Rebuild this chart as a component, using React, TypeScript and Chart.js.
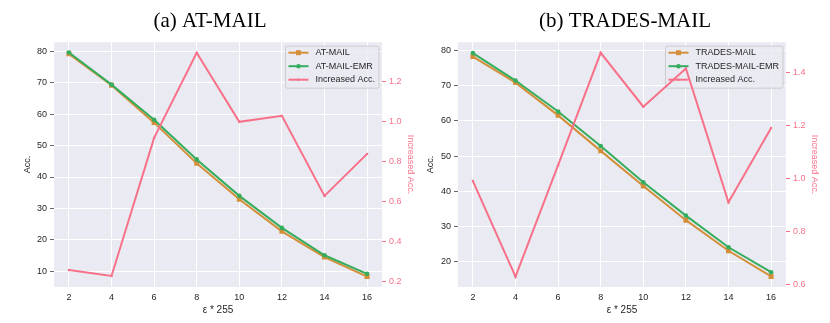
import React, { useEffect, useRef } from "react";
import { Chart, registerables } from "chart.js";

Chart.register(...registerables);

// ---------- data ----------
const epsilons = [2, 4, 6, 8, 10, 12, 14, 16];

const atMail = [79.2, 69.2, 57.3, 44.4, 32.9, 22.7, 14.5, 8.3];
const atMailEmr = [79.6, 69.4, 58.2, 45.6, 34.0, 23.8, 15.1, 9.2];
const atIncreased = [0.26, 0.23, 0.92, 1.345, 1.0, 1.03, 0.63, 0.84];

const tradesMail = [78.3, 70.9, 61.6, 51.5, 41.5, 31.8, 23.1, 15.8];
const tradesMailEmr = [79.3, 71.5, 62.7, 52.9, 42.6, 33.1, 24.1, 17.0];
const tradesIncreased = [0.99, 0.63, 1.05, 1.473, 1.27, 1.414, 0.91, 1.19];

const atAccTicks = [10, 20, 30, 40, 50, 60, 70, 80];
const atIncTicks = [0.2, 0.4, 0.6, 0.8, 1.0, 1.2];
const tradesAccTicks = [20, 30, 40, 50, 60, 70, 80];
const tradesIncTicks = [0.6, 0.8, 1.0, 1.2, 1.4];

// ---------- style ----------
const ORANGE = "#D38F3A";
const GREEN = "#35AD5E";
const PINK = "#F77189";
const TEXT = "#262626";
const BG = "#EAEAF2";
const SANS = "'Liberation Sans', Arial, sans-serif";
const SERIF = "'Liberation Serif', 'Times New Roman', serif";

type PanelCfg = {
  title: string;
  names: [string, string];
  base: number[];
  emr: number[];
  inc: number[];
  accTicks: number[];
  incTicks: number[];
  accMin: number;
  accMax: number;
  incMin: number;
  incMax: number;
  left: number;
  width: number;
  leftAxisW: number;
  rightAxisW: number;
  leftTitlePad: number;
  rightTitlePad: number;
};

const panels: PanelCfg[] = [
  {
    title: "(a) AT-MAIL",
    names: ["AT-MAIL", "AT-MAIL-EMR"],
    base: atMail,
    emr: atMailEmr,
    inc: atIncreased,
    accTicks: atAccTicks,
    incTicks: atIncTicks,
    accMin: 5.0,
    accMax: 82.9,
    incMin: 0.175,
    incMax: 1.398,
    left: 0,
    width: 420,
    leftAxisW: 54,
    rightAxisW: 38,
    leftTitlePad: 22.6,
    rightTitlePad: 3.9,
  },
  {
    title: "(b) TRADES-MAIL",
    names: ["TRADES-MAIL", "TRADES-MAIL-EMR"],
    base: tradesMail,
    emr: tradesMailEmr,
    inc: tradesIncreased,
    accTicks: tradesAccTicks,
    incTicks: tradesIncTicks,
    accMin: 12.8,
    accMax: 82.4,
    incMin: 0.591,
    incMax: 1.513,
    left: 420,
    width: 410,
    leftAxisW: 38,
    rightAxisW: 44,
    leftTitlePad: 5.6,
    rightTitlePad: 10.3,
  },
];

const toPoints = (ys: number[]) => epsilons.map((x, i) => ({ x, y: ys[i] }));

const bgPlugin = {
  id: "plotBg",
  beforeDraw(chart: any) {
    const { ctx, chartArea } = chart;
    ctx.save();
    ctx.fillStyle = BG;
    ctx.fillRect(chartArea.left, chartArea.top, chartArea.right - chartArea.left, chartArea.bottom - chartArea.top);
    ctx.restore();
  },
};

const legendPlugin = {
  id: "mplLegend",
  beforeDatasetsDraw(chart: any) {
    const { ctx, chartArea } = chart;
    const items = chart.data.datasets;
    ctx.save();
    ctx.font = `9px ${SANS}`;
    let textW = 0;
    items.forEach((d: any) => {
      textW = Math.max(textW, ctx.measureText(d.label).width);
    });
    const padL = 3, sample = 20, gap = 7, padR = 4;
    const w = padL + sample + gap + textW + padR;
    const h = 42;
    const right = chartArea.right - 3;
    const top = chartArea.top + 4;
    const left = right - w;
    const r = 2;
    ctx.beginPath();
    ctx.moveTo(left + r, top);
    ctx.lineTo(left + w - r, top);
    ctx.quadraticCurveTo(left + w, top, left + w, top + r);
    ctx.lineTo(left + w, top + h - r);
    ctx.quadraticCurveTo(left + w, top + h, left + w - r, top + h);
    ctx.lineTo(left + r, top + h);
    ctx.quadraticCurveTo(left, top + h, left, top + h - r);
    ctx.lineTo(left, top + r);
    ctx.quadraticCurveTo(left, top, left + r, top);
    ctx.closePath();
    ctx.fillStyle = "rgba(234,234,242,0.8)";
    ctx.fill();
    ctx.strokeStyle = "#CCCCCC";
    ctx.lineWidth = 1;
    ctx.stroke();

    items.forEach((d: any, i: number) => {
      const y = top + 6.5 + i * 13.5;
      const x0 = left + padL;
      ctx.strokeStyle = d.borderColor;
      ctx.lineWidth = 2;
      ctx.beginPath();
      ctx.moveTo(x0, y);
      ctx.lineTo(x0 + sample, y);
      ctx.stroke();
      const cx = x0 + sample / 2;
      ctx.fillStyle = d.borderColor;
      if (d.pointStyle === "rect") {
        const s = d.pointRadius * Math.SQRT1_2;
        ctx.fillRect(cx - s, y - s, 2 * s, 2 * s);
      } else {
        ctx.beginPath();
        ctx.arc(cx, y, d.pointRadius, 0, Math.PI * 2);
        ctx.fill();
      }
      ctx.fillStyle = TEXT;
      ctx.textBaseline = "middle";
      ctx.textAlign = "left";
      ctx.fillText(d.label, x0 + sample + gap, y);
    });
    ctx.restore();
  },
};

function Panel({ cfg }: { cfg: PanelCfg }) {
  const ref = useRef<HTMLCanvasElement>(null);

  useEffect(() => {
    if (!ref.current) return;
    const tickFont = { family: SANS, size: 9 };
    const chart = new Chart(ref.current, {
      type: "line",
      data: {
        datasets: [
          {
            label: cfg.names[0],
            data: toPoints(cfg.base),
            borderColor: ORANGE,
            backgroundColor: ORANGE,
            borderWidth: 2,
            pointStyle: "rect",
            pointRadius: 3.5,
            pointBorderWidth: 0,
            yAxisID: "y",
            order: 3,
          },
          {
            label: cfg.names[1],
            data: toPoints(cfg.emr),
            borderColor: GREEN,
            backgroundColor: GREEN,
            borderWidth: 2,
            pointStyle: "circle",
            pointRadius: 2.3,
            pointBorderWidth: 0,
            yAxisID: "y",
            order: 2,
          },
          {
            label: "Increased Acc.",
            data: toPoints(cfg.inc),
            borderColor: PINK,
            backgroundColor: PINK,
            borderWidth: 2,
            pointStyle: "circle",
            pointRadius: 1.2,
            pointBorderWidth: 0,
            yAxisID: "y1",
            order: 1,
          },
        ] as any,
      },
      options: {
        responsive: false,
        animation: false,
        layout: { padding: 0 },
        plugins: {
          legend: { display: false },
          tooltip: { enabled: false },
          title: {
            display: true,
            text: cfg.title,
            color: "#000000",
            font: { family: SERIF, size: 21, weight: "normal" as any },
            padding: { top: 9, bottom: 8 },
          },
        },
        scales: {
          x: {
            type: "linear",
            position: "bottom",
            min: 1.3,
            max: 16.7,
            afterBuildTicks: (s: any) => {
              s.ticks = epsilons.map((v) => ({ value: v }));
            },
            afterFit: (s: any) => {
              s.height = 36;
            },
            grid: { color: "#FFFFFF", lineWidth: 1, drawTicks: false },
            border: { display: false },
            ticks: { font: tickFont, color: TEXT, padding: 5, callback: (v: any) => String(v) },
            title: {
              display: true,
              text: "ε * 255",
              color: TEXT,
              font: { family: SANS, size: 10 },
              padding: { top: 0, bottom: 7 },
            },
          },
          y: {
            type: "linear",
            position: "left",
            min: cfg.accMin,
            max: cfg.accMax,
            afterBuildTicks: (s: any) => {
              s.ticks = cfg.accTicks.map((v) => ({ value: v }));
            },
            afterFit: (s: any) => {
              s.width = cfg.leftAxisW;
            },
            grid: { color: "#FFFFFF", lineWidth: 1, drawTicks: true, tickLength: 4, tickColor: "#666666" },
            border: { display: false },
            ticks: { font: tickFont, color: TEXT, padding: 3, callback: (v: any) => String(v) },
            title: {
              display: true,
              text: "Acc.",
              color: TEXT,
              font: { family: SANS, size: 9 },
              padding: { top: cfg.leftTitlePad, bottom: 0 },
            },
          },
          y1: {
            type: "linear",
            position: "right",
            min: cfg.incMin,
            max: cfg.incMax,
            afterBuildTicks: (s: any) => {
              s.ticks = cfg.incTicks.map((v) => ({ value: v }));
            },
            afterFit: (s: any) => {
              s.width = cfg.rightAxisW;
            },
            grid: { drawOnChartArea: false, drawTicks: true, tickLength: 4, tickColor: PINK, lineWidth: 1 },
            border: { display: false },
            ticks: { font: tickFont, color: PINK, padding: 3, callback: (v: any) => Number(v).toFixed(1) },
            title: {
              display: true,
              text: "Increased Acc.",
              color: PINK,
              font: { family: SANS, size: 9 },
              padding: { top: cfg.rightTitlePad, bottom: 0 },
            },
          },
        },
      } as any,
      plugins: [bgPlugin, legendPlugin],
    });
    return () => chart.destroy();
  }, [cfg]);

  return (
    <canvas
      ref={ref}
      width={cfg.width}
      height={323}
      style={{ position: "absolute", left: cfg.left, top: 0, width: cfg.width, height: 323 }}
    />
  );
}

export default function App() {
  return (
    <div
      style={{
        position: "absolute",
        left: 0,
        top: 0,
        width: 830,
        height: 323,
        background: "#FFFFFF",
        overflow: "hidden",
      }}
    >
      {panels.map((p) => (
        <Panel key={p.title} cfg={p} />
      ))}
    </div>
  );
}
